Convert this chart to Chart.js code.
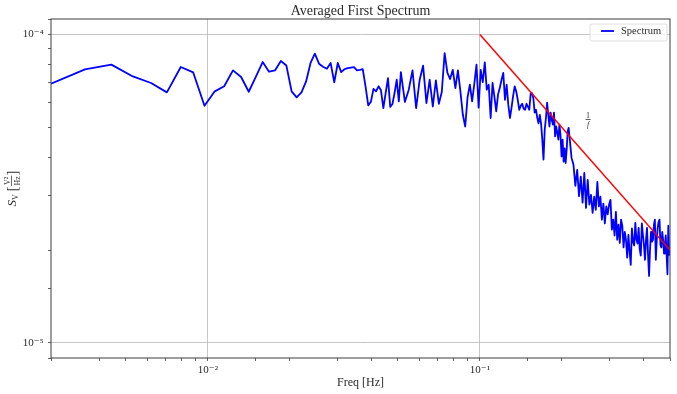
<!DOCTYPE html>
<html>
<head>
<meta charset="utf-8">
<script src="https://cdn.jsdelivr.net/npm/chart.js@4.4.0/dist/chart.umd.min.js"></script>
<style>
html,body{margin:0;padding:0;background:#ffffff;}
#wrap{width:677px;height:394px;position:relative;}
</style>
</head>
<body>
<div id="wrap"><canvas id="c" width="677" height="394"></canvas></div>
<script>
// ---- data -------------------------------------------------------------
// FFT frequency grid: frequency = bin * BIN_WIDTH (Hz)
const BIN_WIDTH = 0.5 / 566;
// low band: every bin, mid band: every 2nd bin, high band: every 4th bin
const SEG1_START = 3,   SEG1_STEP = 1;
const SEG2_START = 62,  SEG2_STEP = 2;
const SEG3_START = 246, SEG3_STEP = 4;
// spectrum values, in units of 1e-5 V^2/Hz
const PSD_UNIT = 1e-5;
const psdSeg1 = [
  6.92, 7.70, 7.98, 7.31, 6.96, 6.49, 7.84, 7.53, 5.87, 6.54,
  6.79, 7.65, 7.28, 6.52, 7.30, 8.14, 7.57, 7.65, 8.20, 7.93,
  6.54, 6.25, 6.49, 7.04, 8.08, 8.66, 8.04, 7.86, 7.74, 8.08,
  7.00, 8.08, 7.55, 7.72, 7.77, 7.81, 7.84, 7.65, 7.68, 7.72,
  6.79, 5.89, 6.05, 6.66, 6.54, 6.79, 6.59, 5.77, 6.47, 7.22,
  5.82, 5.95, 6.47, 7.13, 6.07, 7.55, 6.74, 6.04
];
const psdSeg2 = [
  6.62, 7.65, 5.77, 7.13, 7.92, 5.99, 7.13, 5.84, 7.10, 5.96,
  6.51, 8.70, 7.50, 7.17, 7.68, 6.70, 7.65, 6.54, 5.49, 5.03,
  6.26, 6.87, 6.07, 6.92, 7.98, 5.79, 7.68, 7.00, 8.12, 6.62,
  6.87, 5.36, 6.96, 6.29, 5.63, 6.38, 6.72, 7.13, 7.50, 6.14,
  6.87, 5.92, 5.36, 5.79, 6.32, 6.79, 6.53, 6.14, 5.70, 5.87,
  5.96, 5.74, 5.70, 5.96, 5.83, 5.70, 6.42, 6.45, 6.21, 5.58,
  5.70, 5.37, 5.15, 5.49, 5.15, 4.56, 3.93, 4.91, 5.36, 6.01,
  5.49, 5.03, 5.58, 5.29, 5.10, 5.58, 4.67, 5.03, 4.80, 4.56,
  5.10, 4.73, 4.02, 4.56, 3.87, 4.27, 3.83, 4.23, 4.85, 4.98
];
const psdSeg3 = [
  3.98, 3.78, 3.23, 3.64, 2.99, 3.46, 2.85, 3.56, 2.74, 3.38,
  2.81, 3.02, 2.64, 2.98, 2.70, 3.33, 2.77, 2.98, 2.51, 2.83,
  2.44, 2.77, 2.61, 2.81, 2.91, 2.33, 2.51, 2.23, 2.66, 2.16,
  2.42, 2.11, 2.51, 2.40, 2.04, 2.29, 2.16, 1.89, 2.24, 1.98,
  1.79, 2.35, 2.13, 2.07, 2.45, 2.16, 2.10, 2.36, 2.01, 1.92,
  2.44, 2.24, 2.08, 1.86, 2.16, 2.36, 1.93, 1.65, 2.01, 2.29,
  2.13, 2.16, 2.42, 2.51, 1.86, 2.16, 2.36, 2.47, 2.51, 2.08,
  2.04, 2.29, 2.16, 1.95, 2.08, 2.23, 1.93, 1.67, 2.40, 1.93,
  1.98
];
// 1/f reference line
const refFreq = [0.1, 0.5];
const refPsd  = [1e-4, 2e-5];
// axis limits
const X_MIN = SEG1_START * BIN_WIDTH, X_MAX = 0.5;
const Y_MIN = 8.94e-6, Y_MAX = 1.122e-4;
// texts
const TITLE = 'Averaged First Spectrum';
const X_LABEL = 'Freq [Hz]';
const LEGEND_LABEL = 'Spectrum';
const ANNOT_POS = {f: 0.25, s: 5.3e-5};

// ---- build ------------------------------------------------------------
function segPoints(start, step, vals) {
  return vals.map((v, i) => ({x: (start + i * step) * BIN_WIDTH, y: v * PSD_UNIT}));
}
const spectrum = [
  ...segPoints(SEG1_START, SEG1_STEP, psdSeg1),
  ...segPoints(SEG2_START, SEG2_STEP, psdSeg2),
  ...segPoints(SEG3_START, SEG3_STEP, psdSeg3)
];
const refLine = refFreq.map((f, i) => ({x: f, y: refPsd[i]}));

const SUP = {'-': '\u207B', '0': '\u2070', '1': '\u00B9', '2': '\u00B2', '3': '\u00B3',
  '4': '\u2074', '5': '\u2075', '6': '\u2076', '7': '\u2077', '8': '\u2078', '9': '\u2079'};
function isPow10(v) {
  const e = Math.log10(v);
  return Math.abs(e - Math.round(e)) < 1e-6;
}
function pow10Label(v) {
  if (!isPow10(v)) return '';
  const r = Math.round(Math.log10(v));
  return '10' + String(r).split('').map(c => SUP[c]).join('');
}

const SERIF = '"Liberation Serif", "DejaVu Serif", serif';
const TXT = '#2a2a2a';

const deco = {
  id: 'deco',
  afterDraw(chart) {
    const ctx = chart.ctx, ca = chart.chartArea;
    const xs = chart.scales.x, ys = chart.scales.y;
    ctx.save();
    // frame
    ctx.strokeStyle = '#3c3c3c';
    ctx.lineWidth = 1;
    ctx.strokeRect(ca.left, ca.top, ca.right - ca.left, ca.bottom - ca.top);

    // legend
    const lx = ca.right - 80, ly = ca.top + 5, lw = 77, lh = 17;
    ctx.beginPath();
    ctx.roundRect(lx, ly, lw, lh, 2);
    ctx.fillStyle = 'rgba(255,255,255,0.8)';
    ctx.fill();
    ctx.strokeStyle = '#d6d6d6';
    ctx.lineWidth = 0.8;
    ctx.stroke();
    const my = ly + 7;
    ctx.beginPath();
    ctx.moveTo(lx + 11, my);
    ctx.lineTo(lx + 24, my);
    ctx.strokeStyle = '#0000ff';
    ctx.lineWidth = 1.8;
    ctx.stroke();
    ctx.fillStyle = TXT;
    ctx.font = '10.5px ' + SERIF;
    ctx.textAlign = 'left';
    ctx.textBaseline = 'middle';
    ctx.fillText(LEGEND_LABEL, lx + 31, my + 0.5);

    // 1/f annotation
    const ax = xs.getPixelForValue(ANNOT_POS.f), ay = ys.getPixelForValue(ANNOT_POS.s);
    ctx.fillStyle = '#333';
    ctx.textAlign = 'center';
    ctx.textBaseline = 'alphabetic';
    ctx.font = '8px ' + SERIF;
    ctx.fillText('1', ax, ay - 2);
    ctx.fillRect(ax - 2.5, ay - 0.4, 5, 0.8);
    ctx.font = 'italic 8px ' + SERIF;
    ctx.fillText('f', ax, ay + 7);

    // title
    const cx = (ca.left + ca.right) / 2;
    ctx.fillStyle = TXT;
    ctx.font = '14px ' + SERIF;
    ctx.textAlign = 'center';
    ctx.textBaseline = 'alphabetic';
    ctx.fillText(TITLE, cx, ca.top - 4.5);

    // x label
    ctx.font = '12px ' + SERIF;
    ctx.fillText(X_LABEL, cx, 386);

    // y label: S_V [V^2/Hz]
    ctx.save();
    ctx.translate(15.5, (ca.top + ca.bottom) / 2);
    ctx.rotate(-Math.PI / 2);
    ctx.textAlign = 'left';
    const fBigI = 'italic 13px ' + SERIF, fSmall = '8px ' + SERIF, fBr = '14px ' + SERIF;
    ctx.font = fBigI; const wS = ctx.measureText('S').width;
    ctx.font = fSmall; const wV = ctx.measureText('V').width;
    ctx.font = fBr; const wB = ctx.measureText('[').width;
    ctx.font = fSmall; const wF = Math.max(ctx.measureText('V\u00B2').width, ctx.measureText('Hz').width) + 2;
    const gap = 3;
    const total = wS + wV + gap + wB + wF + wB;
    let x0 = -total / 2;
    ctx.font = fBigI; ctx.fillText('S', x0, 0); x0 += wS;
    ctx.font = fSmall; ctx.fillText('V', x0, 2.5); x0 += wV + gap;
    ctx.font = fBr; ctx.fillText('[', x0, 1.5); x0 += wB;
    ctx.font = fSmall; ctx.textAlign = 'center';
    ctx.fillText('V\u00B2', x0 + wF / 2, -5.5);
    ctx.fillText('Hz', x0 + wF / 2, 4);
    ctx.fillRect(x0 + 0.5, -4.2, wF - 1, 0.7);
    ctx.textAlign = 'left'; x0 += wF;
    ctx.font = fBr; ctx.fillText(']', x0, 1.5);
    ctx.restore();

    ctx.restore();
  }
};

new Chart(document.getElementById('c'), {
  type: 'line',
  data: {
    datasets: [
      {
        label: '1/f',
        data: refLine,
        borderColor: '#ff0000',
        borderWidth: 1.5,
        pointRadius: 0,
        fill: false,
        order: 0
      },
      {
        label: LEGEND_LABEL,
        data: spectrum,
        borderColor: '#0000ff',
        borderWidth: 1.8,
        borderJoinStyle: 'round',
        pointRadius: 0,
        fill: false,
        tension: 0,
        order: 1
      }
    ]
  },
  options: {
    responsive: false,
    devicePixelRatio: 1,
    animation: false,
    events: [],
    layout: {padding: {left: 0, right: 7, top: 19, bottom: 0}},
    plugins: {legend: {display: false}, title: {display: false}, tooltip: {enabled: false}},
    scales: {
      x: {
        type: 'logarithmic',
        min: X_MIN,
        max: X_MAX,
        afterFit(s) { s.height = 36; },
        border: {display: false},
        grid: {
          color: c => (c.tick && isPow10(c.tick.value)) ? '#b8b8b8' : 'rgba(0,0,0,0)',
          lineWidth: 0.8,
          drawTicks: true,
          tickLength: 3,
          tickColor: '#3c3c3c',
          tickWidth: 0.8
        },
        ticks: {
          autoSkip: false, maxRotation: 0, minRotation: 0, padding: 3,
          color: TXT, font: {family: SERIF, size: 11},
          callback: v => pow10Label(v)
        }
      },
      y: {
        type: 'logarithmic',
        min: Y_MIN,
        max: Y_MAX,
        afterFit(s) { s.width = 51; },
        border: {display: false},
        grid: {
          color: c => (c.tick && isPow10(c.tick.value)) ? '#b8b8b8' : 'rgba(0,0,0,0)',
          lineWidth: 0.8,
          drawTicks: true,
          tickLength: 3,
          tickColor: '#3c3c3c',
          tickWidth: 0.8
        },
        ticks: {
          autoSkip: false, padding: 4.5,
          color: TXT, font: {family: SERIF, size: 11},
          callback: v => pow10Label(v)
        }
      }
    }
  },
  plugins: [deco]
});
</script>
</body>
</html>
